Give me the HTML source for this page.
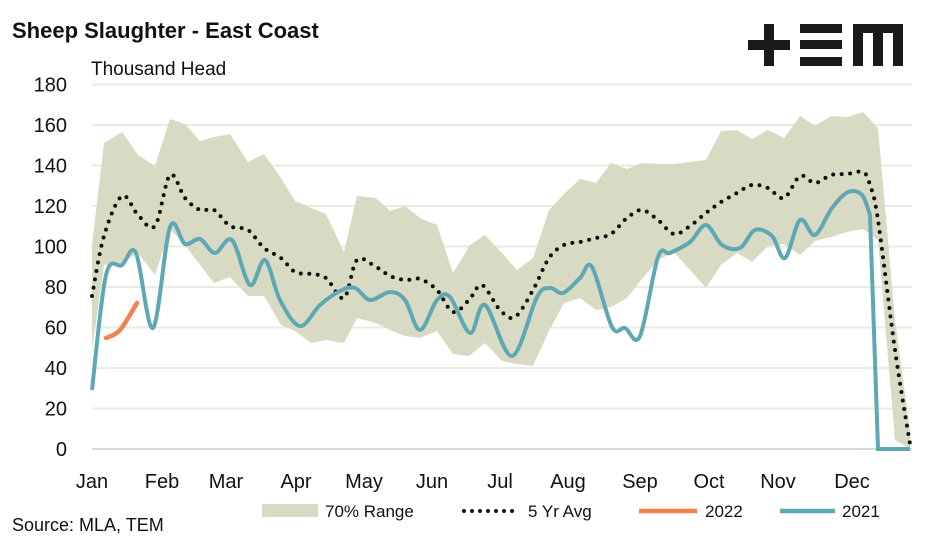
<!DOCTYPE html><html><head><meta charset="utf-8"><style>body{margin:0;background:#fff}svg{display:block;font-family:"Liberation Sans",sans-serif}</style></head><body>
<svg id="s" width="947" height="543" viewBox="0 0 947 543">
<text x="12" y="38" font-size="22" font-weight="bold" fill="#111">Sheep Slaughter - East Coast</text>
<text x="91" y="75" font-size="19" fill="#111">Thousand Head</text>
<g fill="#1a1a1a"><rect x="748" y="40" width="42" height="10"/><rect x="764" y="24" width="10" height="42"/><rect x="800" y="24" width="42" height="9"/><rect x="800" y="40" width="42" height="9"/><rect x="800" y="57" width="42" height="9"/><rect x="853" y="24" width="50" height="9"/><rect x="853" y="24" width="10" height="42"/><rect x="873" y="24" width="10" height="42"/><rect x="893" y="24" width="10" height="42"/></g>
<g id="grid" stroke="#ebebe0" stroke-width="2"></g>
<g id="yl" font-size="20" fill="#111" text-anchor="end"></g>
<path id="rng" fill="#d9dac4"/>
<path id="avg" fill="none" stroke="#111" stroke-width="4" stroke-linecap="round" stroke-dasharray="0 8.5"/>
<path id="l21" fill="none" stroke="#5fa8b3" stroke-width="4"/>
<path id="l22" fill="none" stroke="#f4804f" stroke-width="4.5" stroke-linecap="round"/>
<g font-size="20" fill="#111" text-anchor="middle">
<text x="92" y="488">Jan</text><text x="162" y="488">Feb</text><text x="226" y="488">Mar</text><text x="296" y="488">Apr</text><text x="364" y="488">May</text><text x="432" y="488">Jun</text><text x="500" y="488">Jul</text><text x="568" y="488">Aug</text><text x="640" y="488">Sep</text><text x="709" y="488">Oct</text><text x="778" y="488">Nov</text><text x="852" y="488">Dec</text></g>
<rect x="262" y="504" width="56" height="13" fill="#d9dac4"/>
<text x="325" y="517" font-size="17" fill="#111">70% Range</text>
<line x1="464" y1="511" x2="520" y2="511" stroke="#111" stroke-width="4" stroke-linecap="round" stroke-dasharray="0 8"/>
<text x="528" y="517" font-size="17" fill="#111">5 Yr Avg</text>
<line x1="639" y1="511" x2="697" y2="511" stroke="#f4804f" stroke-width="4.5"/>
<text x="705" y="517" font-size="17" fill="#111">2022</text>
<line x1="780" y1="511" x2="835" y2="511" stroke="#5fa8b3" stroke-width="4.5"/>
<text x="842" y="517" font-size="17" fill="#111">2021</text>
<text x="12" y="531" font-size="18" fill="#111">Source: MLA, TEM</text>
</svg>
<script>
var NS="http://www.w3.org/2000/svg",g=document.getElementById('grid'),yl=document.getElementById('yl');
for(var v=0;v<=180;v+=20){var y=449-v*2.025;var l=document.createElementNS(NS,'line');l.setAttribute('x1',92);l.setAttribute('x2',912);l.setAttribute('y1',y);l.setAttribute('y2',y);if(v==0)l.setAttribute('stroke','#d9d9d9');g.appendChild(l);var t=document.createElementNS(NS,'text');t.setAttribute('x',67);t.setAttribute('y',y+7);t.textContent=v;yl.appendChild(t);}
function P(a){return a.map(function(p,i){return(i?'L':'M')+p[0]+','+p[1]}).join('');}
function S(a){var d='M'+a[0][0]+','+a[0][1];for(var i=0;i<a.length-1;i++){var p0=a[i?i-1:0],p1=a[i],p2=a[i+1],p3=a[i+2<a.length?i+2:i+1];d+='C'+(p1[0]+(p2[0]-p0[0])/6)+','+(p1[1]+(p2[1]-p0[1])/6)+' '+(p2[0]-(p3[0]-p1[0])/6)+','+(p2[1]-(p3[1]-p1[1])/6)+' '+p2[0]+','+p2[1];}return d;}
var up=[[92,245],[104,143],[122,132],[138,155],[155,166],[170,119],[185,124],[200,141],[214,137],[230,134],[248,162],[264,154],[281,178],[295,201],[311,208],[326,214],[344,252],[357,196],[376,198],[390,211],[405,206],[420,218],[437,225],[453,273],[470,245],[485,235],[502,253],[517,270],[533,258],[549,210],[564,194],[580,179],[596,183],[611,163],[627,169],[642,163],[658,164],[674,164],[690,162],[706,160],[721,131],[737,130],[752,139],[768,130],[784,138],[800,116],[815,126],[831,116],[847,117],[863,112],[878,128],[895,320],[910,430]];
var lo=[[92,350],[104,265],[122,263],[138,253],[155,275],[170,229],[185,245],[200,265],[214,283],[230,277],[248,296],[264,296],[281,325],[295,331],[311,343],[326,340],[344,343],[357,318],[376,323],[390,330],[405,336],[420,338],[437,331],[453,354],[469,356],[485,343],[502,361],[517,364],[533,366],[549,331],[564,303],[580,298],[596,310],[611,307],[627,298],[642,279],[658,260],[674,252],[690,270],[706,288],[721,265],[737,253],[752,262],[768,246],[784,244],[800,255],[815,241],[831,237],[847,232],[863,229],[878,240],[895,440],[910,449]];
document.getElementById('rng').setAttribute('d',P(up.concat(lo.slice().reverse()))+'Z');
var av=[[92,296],[104,236],[122,196],[138,215],[155,226],[170,175],[185,198],[200,210],[214,210],[230,226],[248,230],[264,248],[281,258],[295,272],[311,274],[326,278],[344,298],[357,260],[376,267],[390,276],[405,280],[420,279],[437,290],[453,312],[469,300],[482,285],[500,310],[515,317],[533,290],[549,258],[564,245],[580,242],[596,238],[611,234],[627,218],[642,210],[658,220],[674,234],[690,226],[706,213],[721,202],[737,193],[752,185],[768,188],[784,198],[800,176],[815,183],[831,175],[847,174],[863,172],[870,185],[878,220],[895,350],[910,444]];
document.getElementById('avg').setAttribute('d',S(av));
var a21=[[92,390],[106,275],[122,265],[136,253],[153,328],[170,227],[185,244],[200,239],[215,253],[232,240],[250,285],[265,260],[280,300],[300,326],[320,305],[340,291],[355,288],[370,300],[390,292],[405,300],[420,330],[437,300],[450,297],[470,333],[485,305],[512,356],[537,297],[550,288],[563,293],[580,278],[592,267],[612,327],[625,328],[640,336],[658,257],[670,253],[690,242],[706,225],[722,245],[740,248],[755,230],[772,236],[785,258],[800,220],[815,235],[832,208],[848,192],[862,195],[870,215]];
document.getElementById('l21').setAttribute('d',S(a21)+'L878,449L895,449L910,449');
document.getElementById('l22').setAttribute('d',S([[106,338],[120,330],[137,303]]));
</script>
</body></html>
